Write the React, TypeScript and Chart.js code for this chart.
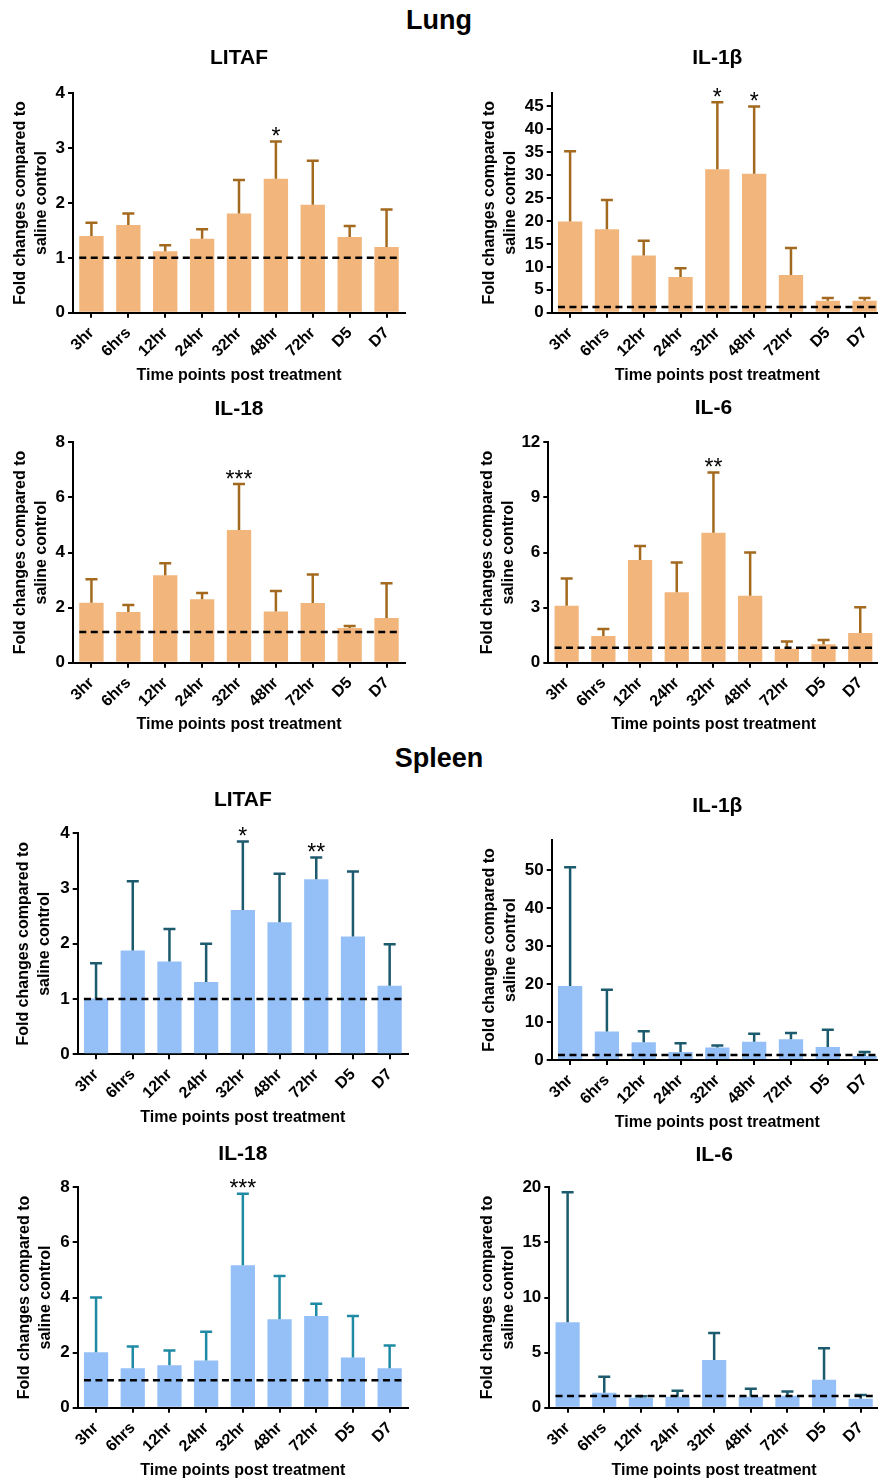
import React, { useEffect, useRef } from "react";
import { Chart, registerables } from "chart.js";

Chart.register(...registerables);

// ---------- data ----------
const timePoints = ["3hr", "6hrs", "12hr", "24hr", "32hr", "48hr", "72hr", "D5", "D7"];

const lungLitafMean = [1.40, 1.60, 1.12, 1.35, 1.81, 2.44, 1.97, 1.38, 1.20];
const lungLitafUpper = [1.64, 1.81, 1.23, 1.52, 2.42, 3.12, 2.77, 1.58, 1.88];
const lungLitafStars = ["", "", "", "", "", "*", "", "", ""];
const lungLitafControl = 1.0;

const lungIl1bMean = [19.9, 18.2, 12.5, 7.8, 31.3, 30.3, 8.2, 2.6, 2.6];
const lungIl1bUpper = [35.2, 24.6, 15.7, 9.7, 45.9, 45.0, 14.1, 3.2, 3.2];
const lungIl1bStars = ["", "", "", "", "*", "*", "", "", ""];
const lungIl1bControl = 1.25;

const lungIl18Mean = [2.18, 1.84, 3.17, 2.30, 4.82, 1.86, 2.17, 1.26, 1.62];
const lungIl18Upper = [3.03, 2.09, 3.61, 2.53, 6.49, 2.60, 3.20, 1.33, 2.88];
const lungIl18Stars = ["", "", "", "", "***", "", "", "", ""];
const lungIl18Control = 1.11;

const lungIl6Mean = [3.10, 1.45, 5.59, 3.83, 7.08, 3.65, 0.76, 1.00, 1.62];
const lungIl6Upper = [4.59, 1.83, 6.35, 5.45, 10.35, 6.00, 1.16, 1.23, 3.02];
const lungIl6Stars = ["", "", "", "", "**", "", "", "", ""];
const lungIl6Control = 0.82;

const spleenLitafMean = [1.01, 1.88, 1.68, 1.31, 2.61, 2.39, 3.17, 2.13, 1.24];
const spleenLitafUpper = [1.65, 3.13, 2.27, 2.00, 3.85, 3.27, 3.56, 3.31, 1.99];
const spleenLitafStars = ["", "", "", "", "*", "", "**", "", ""];
const spleenLitafControl = 1.0;

const spleenIl1bMean = [19.5, 7.5, 4.7, 2.1, 3.3, 4.8, 5.5, 3.4, 1.05];
const spleenIl1bUpper = [50.8, 18.5, 7.6, 4.4, 3.8, 6.9, 7.1, 8.0, 2.1];
const spleenIl1bStars = ["", "", "", "", "", "", "", "", ""];
const spleenIl1bControl = 1.32;

const spleenIl18Mean = [2.01, 1.43, 1.54, 1.71, 5.17, 3.21, 3.33, 1.82, 1.43];
const spleenIl18Upper = [4.00, 2.22, 2.08, 2.76, 7.77, 4.78, 3.77, 3.33, 2.26];
const spleenIl18Stars = ["", "", "", "", "***", "", "", "", ""];
const spleenIl18Control = 1.0;

const spleenIl6Mean = [7.75, 1.36, 0.91, 1.00, 4.33, 1.00, 1.09, 2.54, 0.82];
const spleenIl6Upper = [19.55, 2.81, 1.03, 1.54, 6.78, 1.72, 1.48, 5.39, 1.15];
const spleenIl6Stars = ["", "", "", "", "", "", "", "", ""];
const spleenIl6Control = 1.06;

// axis ranges
const yMaxes = [4, 48, 8, 12, 4, 58, 8, 20];
const ySteps = [1, 5, 2, 3, 1, 10, 2, 5];

const yAxisTitle = ["Fold changes compared to", "saline control"];
const xAxisTitle = "Time points post treatment";

// ---------- styles ----------
const FONT = "'Liberation Sans', Arial, Helvetica, sans-serif";
const LUNG_FILL = "#F2B67C";
const LUNG_ERR = "#A3691F";
const SPLEEN_FILL = "#94C0F7";
const SPLEEN_ERR = "#1C5A6E";
const SPLEEN_ERR2 = "#1F8AA3";

type Layout = {
  canvasLeft: number;
  chartLeft: number;
  chartRight: number;
  chartTop: number;
  chartBottom: number;
  titleY: number;
  xTitleY: number;
  yTitleX: number;
};

type PanelDef = {
  title: string;
  mean: number[];
  upper: number[];
  stars: string[];
  control: number;
  yMax: number;
  yStep: number;
  fill: string;
  err: string;
  layout: Layout;
};

const panels: PanelDef[] = [
  { title: "LITAF", mean: lungLitafMean, upper: lungLitafUpper, stars: lungLitafStars, control: lungLitafControl, yMax: yMaxes[0], yStep: ySteps[0], fill: LUNG_FILL, err: LUNG_ERR,
    layout: { canvasLeft: 0, chartLeft: 73, chartRight: 405, chartTop: 93.3, chartBottom: 312.7, titleY: 58, xTitleY: 375.5, yTitleX: 21 } },
  { title: "IL-1β", mean: lungIl1bMean, upper: lungIl1bUpper, stars: lungIl1bStars, control: lungIl1bControl, yMax: yMaxes[1], yStep: ySteps[1], fill: LUNG_FILL, err: LUNG_ERR,
    layout: { canvasLeft: 440, chartLeft: 551.7, chartRight: 883, chartTop: 92.7, chartBottom: 312.7, titleY: 58, xTitleY: 375.5, yTitleX: 490 } },
  { title: "IL-18", mean: lungIl18Mean, upper: lungIl18Upper, stars: lungIl18Stars, control: lungIl18Control, yMax: yMaxes[2], yStep: ySteps[2], fill: LUNG_FILL, err: LUNG_ERR,
    layout: { canvasLeft: 0, chartLeft: 73, chartRight: 405, chartTop: 442.3, chartBottom: 662.7, titleY: 409, xTitleY: 725, yTitleX: 21 } },
  { title: "IL-6", mean: lungIl6Mean, upper: lungIl6Upper, stars: lungIl6Stars, control: lungIl6Control, yMax: yMaxes[3], yStep: ySteps[3], fill: LUNG_FILL, err: LUNG_ERR,
    layout: { canvasLeft: 440, chartLeft: 548.3, chartRight: 878.6, chartTop: 442.3, chartBottom: 662.7, titleY: 408.5, xTitleY: 725, yTitleX: 487.3 } },
  { title: "LITAF", mean: spleenLitafMean, upper: spleenLitafUpper, stars: spleenLitafStars, control: spleenLitafControl, yMax: yMaxes[4], yStep: ySteps[4], fill: SPLEEN_FILL, err: SPLEEN_ERR,
    layout: { canvasLeft: 0, chartLeft: 77.7, chartRight: 408, chartTop: 833.3, chartBottom: 1054.3, titleY: 800.5, xTitleY: 1117.5, yTitleX: 24 } },
  { title: "IL-1β", mean: spleenIl1bMean, upper: spleenIl1bUpper, stars: spleenIl1bStars, control: spleenIl1bControl, yMax: yMaxes[5], yStep: ySteps[5], fill: SPLEEN_FILL, err: SPLEEN_ERR,
    layout: { canvasLeft: 440, chartLeft: 551.7, chartRight: 883, chartTop: 840, chartBottom: 1060, titleY: 806.7, xTitleY: 1122.5, yTitleX: 490 } },
  { title: "IL-18", mean: spleenIl18Mean, upper: spleenIl18Upper, stars: spleenIl18Stars, control: spleenIl18Control, yMax: yMaxes[6], yStep: ySteps[6], fill: SPLEEN_FILL, err: SPLEEN_ERR2,
    layout: { canvasLeft: 0, chartLeft: 77.7, chartRight: 408, chartTop: 1187.3, chartBottom: 1407.7, titleY: 1154, xTitleY: 1471, yTitleX: 25 } },
  { title: "IL-6", mean: spleenIl6Mean, upper: spleenIl6Upper, stars: spleenIl6Stars, control: spleenIl6Control, yMax: yMaxes[7], yStep: ySteps[7], fill: SPLEEN_FILL, err: SPLEEN_ERR,
    layout: { canvasLeft: 440, chartLeft: 549.3, chartRight: 879, chartTop: 1187.3, chartBottom: 1407.7, titleY: 1155, xTitleY: 1471, yTitleX: 487.3 } },
];

function makeOverlay(p: PanelDef) {
  return {
    id: "errorsAndControl",
    afterDatasetsDraw(chart: any) {
      const ctx = chart.ctx as CanvasRenderingContext2D;
      const yScale = chart.scales.y;
      const meta = chart.getDatasetMeta(0);
      const bars = meta.data as any[];
      ctx.save();
      // upper error bars with caps
      ctx.strokeStyle = p.err;
      ctx.lineWidth = 2.5;
      ctx.lineCap = "butt";
      bars.forEach((bar, i) => {
        const top = yScale.getPixelForValue(p.upper[i]);
        ctx.beginPath();
        ctx.moveTo(bar.x, bar.y);
        ctx.lineTo(bar.x, top);
        ctx.moveTo(bar.x - 6, top);
        ctx.lineTo(bar.x + 6, top);
        ctx.stroke();
      });
      // dashed control line
      const first = bars[0];
      const last = bars[bars.length - 1];
      const yc = yScale.getPixelForValue(p.control);
      ctx.strokeStyle = "#000";
      ctx.lineWidth = 2.5;
      ctx.setLineDash([7, 4.5]);
      ctx.beginPath();
      ctx.moveTo(first.x - first.width / 2, yc);
      ctx.lineTo(last.x + last.width / 2, yc);
      ctx.stroke();
      ctx.setLineDash([]);
      // significance stars
      ctx.fillStyle = "#000";
      ctx.font = `23px ${FONT}`;
      ctx.textAlign = "center";
      ctx.textBaseline = "middle";
      bars.forEach((bar, i) => {
        const s = p.stars[i];
        if (!s) return;
        const top = yScale.getPixelForValue(p.upper[i]);
        ctx.fillText(s, bar.x, top - 3.5);
      });
      ctx.restore();
    },
  };
}

function Panel({ p }: { p: PanelDef }) {
  const ref = useRef<HTMLCanvasElement | null>(null);
  const L = p.layout;
  const TITLE_LH = 21 * 1.2;
  const X_LH = 16 * 1.2;
  const Y_LH = 16 * 1.3;
  const canvasTop = Math.floor(L.titleY - TITLE_LH / 2 - 4);
  const titlePadTop = L.titleY - TITLE_LH / 2 - canvasTop;
  const titlePadBottom = L.chartTop - L.titleY - TITLE_LH / 2;
  const height = Math.ceil(L.xTitleY + X_LH / 2 + 2 - canvasTop);
  const xScaleH = canvasTop + height - L.chartBottom;
  const xTitlePadBottom = canvasTop + height - L.xTitleY - X_LH / 2;
  const width = Math.ceil(L.chartRight - L.canvasLeft + 12);
  const padRight = L.canvasLeft + width - L.chartRight;
  const yScaleW = L.chartLeft - L.canvasLeft;
  const yTitlePad = L.yTitleX - L.canvasLeft - Y_LH / 2;

  useEffect(() => {
    if (!ref.current) return;
    const chart = new Chart(ref.current, {
      type: "bar",
      data: {
        labels: timePoints,
        datasets: [
          {
            data: p.mean,
            backgroundColor: p.fill,
            borderWidth: 0,
            barPercentage: 0.66,
            categoryPercentage: 1,
          },
        ],
      },
      options: {
        responsive: false,
        animation: false,
        devicePixelRatio: 1,
        layout: { padding: { left: 0, top: 0, bottom: 0, right: padRight } },
        plugins: {
          legend: { display: false },
          tooltip: { enabled: false },
          title: {
            display: true,
            text: p.title,
            fullSize: false,
            color: "#000",
            font: { size: 21, weight: "bold", family: FONT, lineHeight: 1.2 },
            padding: { top: titlePadTop, bottom: titlePadBottom },
          },
        },
        scales: {
          x: {
            offset: true,
            ticks: {
              minRotation: 45,
              maxRotation: 45,
              autoSkip: false,
              color: "#000",
              padding: 7,
              font: { size: 16, weight: "bold", family: FONT, lineHeight: 1.0 },
            },
            grid: {
              offset: false,
              drawOnChartArea: false,
              drawTicks: true,
              tickLength: 5,
              color: "#000",
              lineWidth: 2,
            },
            border: { display: true, color: "#000", width: 2 },
            title: {
              display: true,
              text: xAxisTitle,
              color: "#000",
              font: { size: 16, weight: "bold", family: FONT, lineHeight: 1.2 },
              padding: { top: 0, bottom: xTitlePadBottom },
            },
            afterFit: (s: any) => {
              s.height = xScaleH;
            },
          },
          y: {
            min: 0,
            max: p.yMax,
            ticks: {
              stepSize: p.yStep,
              includeBounds: false,
              color: "#000",
              padding: 3,
              font: { size: 17, weight: "bold", family: FONT },
            },
            grid: {
              drawOnChartArea: false,
              drawTicks: true,
              tickLength: 5,
              color: "#000",
              lineWidth: 2,
            },
            border: { display: true, color: "#000", width: 2 },
            title: {
              display: true,
              text: yAxisTitle,
              color: "#000",
              font: { size: 16, weight: "bold", family: FONT, lineHeight: 1.3 },
              padding: { top: yTitlePad, bottom: 0 },
            },
            afterFit: (s: any) => {
              s.width = yScaleW;
            },
          },
        },
      } as any,
      plugins: [makeOverlay(p)],
    });
    return () => chart.destroy();
  }, []);

  return (
    <canvas
      ref={ref}
      width={width}
      height={height}
      style={{ position: "absolute", left: L.canvasLeft, top: canvasTop, width, height }}
    />
  );
}

const sectionStyle: React.CSSProperties = {
  position: "absolute",
  left: 0,
  width: 878,
  textAlign: "center",
  fontFamily: FONT,
  fontWeight: "bold",
  fontSize: 27,
  lineHeight: "32px",
  color: "#000",
};

export default function App() {
  return (
    <div
      style={{
        position: "absolute",
        left: 0,
        top: 0,
        width: 878,
        height: 1481,
        overflow: "hidden",
        background: "#fff",
      }}
    >
      <div style={{ ...sectionStyle, top: 4 }}>Lung</div>
      <div style={{ ...sectionStyle, top: 742 }}>Spleen</div>
      {panels.map((p, i) => (
        <Panel key={i} p={p} />
      ))}
    </div>
  );
}
